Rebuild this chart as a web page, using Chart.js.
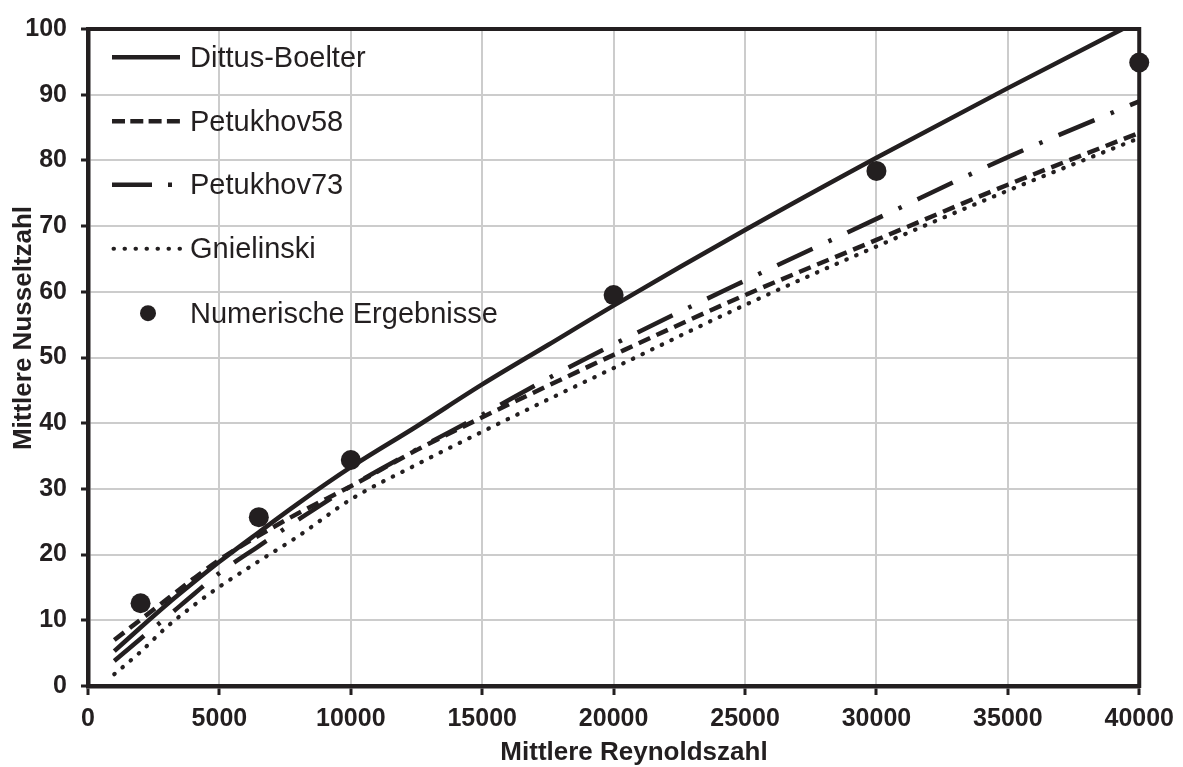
<!DOCTYPE html>
<html>
<head>
<meta charset="utf-8">
<script src="https://cdn.jsdelivr.net/npm/chart.js"></script>
<style>
  body { margin: 0; background: #fff; }
  #wrap { width: 1183px; height: 767px; position: relative; }
</style>
</head>
<body>
<div id="wrap"><canvas id="nusselt-chart"></canvas></div>
<script>
// Reynolds numbers where the correlation curves were read
const reynolds = [1000, 2000, 3000, 4000, 5000, 6500, 8000, 10000, 12500, 15000, 17500, 20000, 25000, 30000, 35000, 40000];
const dittusBoelter = [5.3, 8.9, 12.4, 15.7, 18.9, 23.4, 27.8, 33.3, 39.5, 45.9, 51.9, 57.9, 69.4, 80.4, 91.0, 101.3];
const petukhov58 = [7.0, 10.1, 13.2, 16.3, 19.2, 22.9, 26.3, 30.4, 35.9, 40.9, 45.7, 50.4, 59.5, 67.9, 76.3, 84.2];
const petukhov73 = [3.8, 7.2, 10.5, 13.9, 17.2, 21.3, 25.3, 30.4, 36.0, 41.3, 46.8, 52.0, 61.7, 71.1, 80.5, 89.0];
const gnielinski = [1.8, 5.2, 9.0, 12.2, 15.1, 19.0, 22.8, 28.4, 33.7, 38.7, 43.6, 48.4, 58.0, 66.9, 75.4, 83.4];

// numerical results
const numReynolds = [2000, 6500, 10000, 20000, 30000, 40000];
const numNusselt = [12.6, 25.7, 34.4, 59.5, 78.4, 94.9];

const legendLabels = ['Dittus-Boelter', 'Petukhov58', 'Petukhov73', 'Gnielinski', 'Numerische Ergebnisse'];
const xTitle = 'Mittlere Reynoldszahl';
const yTitle = 'Mittlere Nusseltzahl';

const INK = '#231f20';
const FONT = '"Liberation Sans", Arial, sans-serif';

const toPoints = (xs, ys) => xs.map((x, i) => ({ x: x, y: ys[i] }));

const curve = (label, values, dash, cap, width) => ({
    label: label,
    data: toPoints(reynolds, values),
    showLine: true,
    borderColor: INK,
    borderWidth: width,
    borderDash: dash,
    borderCapStyle: cap,
    pointRadius: 0,
    cubicInterpolationMode: 'monotone',
    order: 1
});

// frame on top and right side of the plot
const framePlugin = {
    id: 'frame',
    beforeDatasetsDraw(chart) {
        const { ctx, chartArea: a } = chart;
        ctx.save();
        ctx.strokeStyle = INK;
        ctx.lineWidth = 4;
        ctx.lineCap = 'square';
        ctx.beginPath();
        ctx.moveTo(a.left, a.top);
        ctx.lineTo(a.right, a.top);
        ctx.lineTo(a.right, a.bottom);
        ctx.stroke();
        ctx.restore();
    }
};

// axis titles and the legend inside the plot area
const labelsPlugin = {
    id: 'labels',
    afterDraw(chart) {
        const ctx = chart.ctx;
        ctx.save();
        ctx.fillStyle = INK;
        ctx.font = 'bold 26px ' + FONT;
        ctx.textAlign = 'center';
        ctx.textBaseline = 'alphabetic';
        ctx.fillText(xTitle, 634, 760);
        ctx.save();
        ctx.translate(31, 328);
        ctx.rotate(-Math.PI / 2);
        ctx.fillText(yTitle, 0, 0);
        ctx.restore();

        const baselines = [66.7, 130.7, 194.3, 258.3, 322.7];
        const x0 = 112, x1 = 180;
        const samples = [
            { dash: [], cap: 'butt', width: 4.5 },
            { dash: [13, 5.3], cap: 'butt', width: 4.5 },
            { dash: [40, 16, 4, 200], cap: 'butt', width: 4.5 },
            { dash: [0.5, 10.5], cap: 'round', width: 4 }
        ];
        ctx.strokeStyle = INK;
        samples.forEach((s, i) => {
            const y = baselines[i] - 9.5;
            ctx.lineWidth = s.width;
            ctx.lineCap = s.cap;
            ctx.setLineDash(s.dash);
            ctx.beginPath();
            ctx.moveTo(x0 + (s.cap === 'round' ? 1.5 : 0), y);
            ctx.lineTo(x1, y);
            ctx.stroke();
        });
        ctx.setLineDash([]);
        ctx.beginPath();
        ctx.arc(148, baselines[4] - 9.5, 8, 0, Math.PI * 2);
        ctx.fill();

        ctx.font = '29px ' + FONT;
        ctx.textAlign = 'left';
        legendLabels.forEach((t, i) => ctx.fillText(t, 190, baselines[i]));
        ctx.restore();
    }
};

const ctx = document.getElementById('nusselt-chart').getContext('2d');
new Chart(ctx, {
    type: 'scatter',
    data: {
        datasets: [
            {
                label: legendLabels[4],
                data: toPoints(numReynolds, numNusselt),
                pointRadius: 10,
                pointBackgroundColor: INK,
                pointBorderWidth: 0,
                showLine: false,
                clip: false,
                order: 0
            },
            curve(legendLabels[0], dittusBoelter, [], 'butt', 4.5),
            curve(legendLabels[1], petukhov58, [12.5, 7], 'butt', 4.5),
            curve(legendLabels[2], petukhov73, [39, 17.5, 3.5, 17.5], 'butt', 4.5),
            curve(legendLabels[3], gnielinski, [0.5, 10.2], 'round', 4.2)
        ]
    },
    options: {
        responsive: true,
        maintainAspectRatio: false,
        animation: false,
        layout: { padding: { top: 19, right: 43, left: 0, bottom: 0 } },
        plugins: {
            legend: { display: false },
            tooltip: { enabled: false }
        },
        scales: {
            x: {
                type: 'linear',
                min: 0,
                max: 40000,
                afterFit: s => { s.height = 81; },
                ticks: {
                    stepSize: 5000,
                    padding: 9,
                    color: INK,
                    font: { family: FONT, size: 25, weight: 'bold' },
                    callback: v => String(v),
                    maxRotation: 0
                },
                grid: { color: '#cccccc', lineWidth: 2, tickColor: INK, tickWidth: 3, tickLength: 9 },
                border: { color: INK, width: 4.5 }
            },
            y: {
                type: 'linear',
                min: 0,
                max: 100,
                afterFit: s => { s.width = 88; },
                ticks: {
                    stepSize: 10,
                    padding: 14,
                    color: INK,
                    font: { family: FONT, size: 25, weight: 'bold' },
                    callback: v => String(v)
                },
                grid: { color: '#cccccc', lineWidth: 2, tickColor: INK, tickWidth: 3, tickLength: 7 },
                border: { color: INK, width: 4.5 }
            }
        }
    },
    plugins: [framePlugin, labelsPlugin]
});
</script>
</body>
</html>
